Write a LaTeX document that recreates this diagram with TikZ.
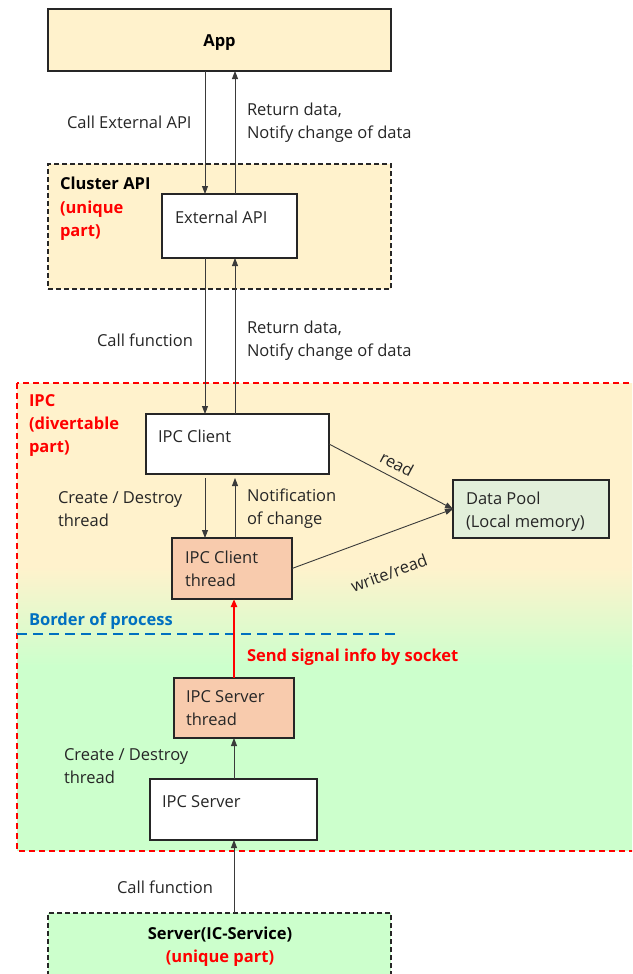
\documentclass[tikz,border=0pt]{standalone}
\usepackage{fontspec}
\setmainfont{Open Sans}
\usetikzlibrary{arrows.meta}
\definecolor{ylw}{HTML}{FFF2CC}
\definecolor{grn}{HTML}{CCFFCC}
\definecolor{sal}{HTML}{F8CBAD}
\definecolor{poolc}{HTML}{E2EFDA}
\definecolor{redt}{HTML}{FF0000}
\definecolor{bluet}{HTML}{0070C0}
\definecolor{edgec}{HTML}{262626}
\definecolor{txtc}{HTML}{262626}
\definecolor{linec}{HTML}{3A3A3A}
\begin{document}
\begin{tikzpicture}[x=1pt,y=-1pt,
  font=\fontsize{16.5}{23}\selectfont,
  box/.style={draw=edgec, line width=1.5pt, anchor=north west, inner sep=0pt, outer sep=0pt},
  lbl/.style={anchor=north west, inner sep=0pt, outer sep=0pt, align=left, text=txtc, execute at begin node={\strut}},
  conn/.style={draw=linec, line width=0.9pt, -{Triangle[length=8pt,width=6pt]}},
]
\useasboundingbox (0,0) rectangle (632,974);
\begin{scope}
  \clip (0,0) rectangle (632,974);
  \fill[ylw] (17,383) rectangle (640,568);
  \shade[top color=ylw, bottom color=grn] (17,567) rectangle (640,666);
  \fill[grn] (17,665) rectangle (640,851);
  \draw[redt, line width=1.3pt, dash pattern=on 6pt off 4pt] (17,383) rectangle (640,851);
  \node[box, fill=grn, dash pattern=on 5pt off 3pt, minimum width=343pt, minimum height=80pt] (srv) at (48,913) {};
\end{scope}

% boxes
\node[box, fill=ylw, minimum width=343pt, minimum height=62pt] (app) at (48,9) {};
\node[font=\fontsize{16.5}{23}\selectfont\bfseries, text=black] (apptxt) at ([yshift=-3pt]app.center) {App};
\node[box, fill=ylw, dash pattern=on 5pt off 3pt, minimum width=343pt, minimum height=125pt] (clu) at (48,164) {};
\node[box, fill=white, minimum width=135pt, minimum height=64pt] (ext) at (162,194) {};
\node[box, fill=white, minimum width=183pt, minimum height=60pt] (ipcc) at (146,414) {};
\node[box, fill=sal, minimum width=120pt, minimum height=61pt] (ipct) at (172,538) {};
\node[box, fill=poolc, minimum width=156pt, minimum height=58pt] (pool) at (453,480) {};
\node[box, fill=sal, minimum width=120pt, minimum height=60pt] (ipst) at (174,678) {};
\node[box, fill=white, minimum width=167pt, minimum height=61pt] (ipsv) at (150,779) {};

% blue border line
\draw[bluet, line width=2.2pt, dash pattern=on 10pt off 6pt] (17,634) -- (397,634);

% connectors
\coordinate (xl) at (205,0);
\coordinate (xr) at (235,0);
\coordinate (xs) at (234,0);
\draw[conn] (app.south -| xl) -- (ext.north -| xl);
\draw[conn] (ext.north -| xr) -- (app.south -| xr);
\draw[conn] (ext.south -| xl) -- (ipcc.north -| xl);
\draw[conn] (ipcc.north -| xr) -- (ext.south -| xr);
\draw[conn, shorten <=4pt] (ipcc.south -| xl) -- (ipct.north -| xl);
\draw[conn, shorten >=4pt] (ipct.north -| xr) -- (ipcc.south -| xr);
\draw[conn, draw=redt, line width=2pt] (ipst.north -| xs) -- (ipct.south -| xs);
\draw[conn] (ipsv.north -| xs) -- (ipst.south -| xs);
\draw[conn] (srv.north -| xs) -- (ipsv.south -| xs);
\draw[conn] (ipcc.east) -- (pool.west);
\draw[conn] (ipct.east) -- (pool.west);

% labels
\node[lbl] (l1) at (67,112) {Call External API};
\node[lbl] (l2) at (247,103) {Return data,\\Notify change of data};
\node[lbl, font=\fontsize{16.5}{23.5}\selectfont\bfseries, text=black] (l3) at (60,177) {Cluster API\\\textcolor{redt}{(unique}\\\textcolor{redt}{part)}};
\node[lbl] (l4) at (175,207) {External API};
\node[lbl] (l5) at (97,330) {Call function};
\node[lbl] (l6) at (247,321) {Return data,\\Notify change of data};
\node[lbl, font=\fontsize{16.5}{23}\selectfont\bfseries, text=redt] (l7) at (29,395) {IPC\\(divertable\\part)};
\node[lbl] (l8) at (158,426) {IPC Client};
\node[lbl] (l9) at (58,492) {Create / Destroy\\thread};
\node[lbl] (l10) at (247,489) {Notification\\of change};
\node[lbl] (l11) at (185,551) {IPC Client\\thread};
\node[lbl] (l12) at (466,492) {Data Pool\\(Local memory)};
\node[lbl, font=\fontsize{16.5}{23}\selectfont\bfseries, text=bluet] (l13) at (29,609) {Border of process};
\node[lbl, font=\fontsize{16.5}{23}\selectfont\bfseries, text=redt] (l14) at (247,645) {Send signal info by socket};
\node[lbl] (l15) at (186,691) {IPC Server\\thread};
\node[lbl] (l16) at (64,749) {Create / Destroy\\thread};
\node[lbl] (l17) at (162,791) {IPC Server};
\node[lbl] (l18) at (117,877) {Call function};
\node[anchor=north, inner sep=0pt, align=center, font=\fontsize{16.5}{23}\selectfont\bfseries, execute at begin node={\strut}] (l19) at (220,927) {Server(IC-Service)\\\textcolor{redt}{(unique part)}};
\node[text=txtc, rotate=-28, inner sep=0pt] (l20) at (397,464) {read};
\node[text=txtc, rotate=20, inner sep=0pt] (l21) at (389,573) {write/read};
\end{tikzpicture}
\end{document}
